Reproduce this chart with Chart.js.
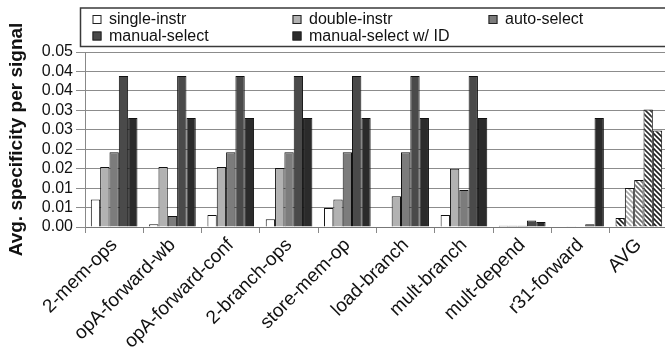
<!DOCTYPE html>
<html>
<head>
<meta charset="utf-8">
<script src="https://cdn.jsdelivr.net/npm/chart.js@4/dist/chart.umd.min.js"></script>
<style>
  html, body { margin: 0; padding: 0; background: #fff; overflow: hidden; width: 665px; height: 347px; }
  #wrap { position: relative; width: 668px; height: 347px; }
  canvas { display: block; }
</style>
</head>
<body>
<div id="wrap"><canvas id="chart" width="668" height="347"></canvas></div>
<script>
// Benchmarks on the x axis
const categories = ['2-mem-ops', 'opA-forward-wb', 'opA-forward-conf', '2-branch-ops', 'store-mem-op',
                    'load-branch', 'mult-branch', 'mult-depend', 'r31-forward', 'AVG'];

// Series names
const seriesNames = ['single-instr', 'double-instr', 'auto-select', 'manual-select', 'manual-select w/ ID'];

// Average specificity per signal, one array per series
const singleInstr   = [0.0071, 0.0007, 0.0031, 0.0020, 0.0049, 0.0000, 0.0031, 0.0003, 0.0000, 0.0023];
const doubleInstr   = [0.0154, 0.0154, 0.0154, 0.0152, 0.0071, 0.0079, 0.0150, 0.0003, 0.0002, 0.0100];
const autoSelect    = [0.0192, 0.0028, 0.0192, 0.0192, 0.0192, 0.0192, 0.0095, 0.0003, 0.0000, 0.0121];
const manualSelect  = [0.0388, 0.0388, 0.0388, 0.0388, 0.0388, 0.0388, 0.0388, 0.0017, 0.0007, 0.0302];
const manualWithId  = [0.0280, 0.0280, 0.0280, 0.0280, 0.0280, 0.0280, 0.0280, 0.0013, 0.0280, 0.0248];

// Y axis tick labels (two decimals, one per 0.005 step)
const yTickLabels = ['0.00', '0.01', '0.01', '0.02', '0.02', '0.03', '0.03', '0.04', '0.04', '0.05'];

const FONT = "'Liberation Sans', Arial, Helvetica, sans-serif";
const fills   = ['#ffffff', '#b2b2b2', '#7c7c7c', '#4a4a4a', '#2b2b2b'];
const hatches = ['#1a1a1a', '#a8a8a8', '#6a6a6a', '#2e2e2e', '#1e1e1e'];

// Diagonal hatch used for the AVG group
function hatch(color) {
  const s = 5;
  const c = document.createElement('canvas');
  c.width = s; c.height = s;
  const g = c.getContext('2d');
  g.fillStyle = '#ffffff';
  g.fillRect(0, 0, s, s);
  g.strokeStyle = color;
  g.lineWidth = 1.6;
  g.beginPath();
  g.moveTo(-1, -1); g.lineTo(s + 1, s + 1);
  g.moveTo(-1, s - 1); g.lineTo(1, s + 1);
  g.moveTo(s - 1, -1); g.lineTo(s + 1, 1);
  g.stroke();
  return g.createPattern(c, 'repeat');
}

const seriesValues = [singleInstr, doubleInstr, autoSelect, manualSelect, manualWithId];
const avgIndex = categories.indexOf('AVG');

const datasets = seriesValues.map((vals, k) => ({
  label: seriesNames[k],
  data: vals,
  backgroundColor: vals.map((_, i) => i === avgIndex ? hatch(hatches[k]) : fills[k]),
  borderColor: '#111',
  borderWidth: 1,
  categoryPercentage: 0.8,
  barPercentage: 1.0
}));

// Boxed legend laid out in three columns
const boxedLegend = {
  id: 'boxedLegend',
  afterDraw(chart) {
    const g = chart.ctx;
    g.save();
    g.strokeStyle = '#3a3a3a';
    g.lineWidth = 1.5;
    g.strokeRect(80.5, 8, 640, 38.5);
    const colX = [92.5, 292.5, 488.5];
    const rowY = [19.5, 36];
    g.font = '16px ' + FONT;
    g.textBaseline = 'middle';
    g.textAlign = 'left';
    chart.data.datasets.forEach((ds, k) => {
      const x = colX[k % 3], y = rowY[Math.floor(k / 3)];
      g.fillStyle = fills[k];
      g.fillRect(x, y - 4.5, 9, 9);
      g.strokeStyle = '#222';
      g.lineWidth = 1;
      g.strokeRect(x + 0.5, y - 4, 8, 8);
      g.fillStyle = '#111';
      g.fillText(ds.label, x + 16.5, y + 0.5);
    });
    g.restore();
  }
};

new Chart(document.getElementById('chart'), {
  type: 'bar',
  data: { labels: categories, datasets },
  options: {
    responsive: false,
    animation: false,
    devicePixelRatio: 1,
    layout: { padding: { top: 52, left: 0, right: 0, bottom: 0 } },
    plugins: { legend: { display: false }, tooltip: { enabled: false } },
    scales: {
      x: {
        grid: { display: true, offset: true, drawOnChartArea: false, drawTicks: true, tickLength: 6, color: '#888', lineWidth: 1 },
        border: { display: true, color: '#777', width: 1 },
        ticks: { autoSkip: false, minRotation: 45, maxRotation: 45, color: '#111', padding: 1,
                 font: { family: FONT, size: 19 } },
        afterFit(s) { s.height = 120; }
      },
      y: {
        min: 0,
        max: 0.045,
        ticks: { autoSkip: false, stepSize: 0.005, callback: (v, i) => yTickLabels[i], color: '#111', padding: 3,
                 font: { family: FONT, size: 16 } },
        grid: { color: '#8c8c8c', lineWidth: 1, drawTicks: true, tickLength: 9 },
        border: { display: true, color: '#888', width: 1 },
        title: { display: true, text: 'Avg. specificity per signal', color: '#111',
                 font: { family: FONT, size: 19, weight: 'bold' }, padding: { top: 5, bottom: 0 } },
        afterFit(s) { s.width = 85; }
      }
    }
  },
  plugins: [boxedLegend]
});
</script>
</body>
</html>
